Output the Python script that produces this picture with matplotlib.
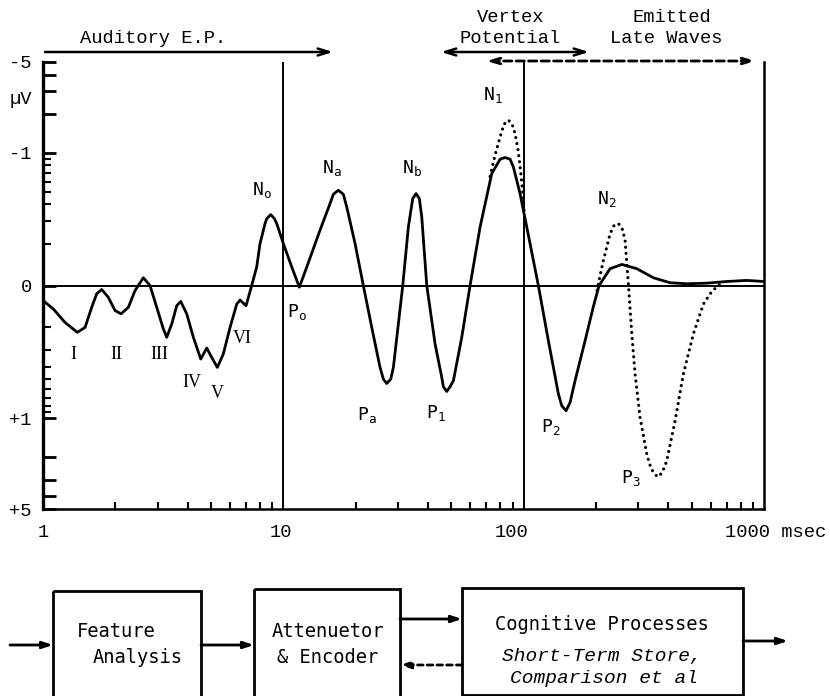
import matplotlib
matplotlib.use('Agg')
import matplotlib.pyplot as plt
from matplotlib.patches import Rectangle
from matplotlib.ticker import LogLocator, NullFormatter

plt.rcParams['font.family'] = ['Liberation Mono', 'DejaVu Sans']

# latency (msec) and amplitude (microvolt, negative = up)
solid_t = [1.0, 1.104, 1.235, 1.389, 1.496, 1.594, 1.673, 1.755, 1.869, 1.993,
           2.112, 2.265, 2.415, 2.615, 2.788, 2.973, 3.167, 3.272, 3.433, 3.601,
           3.741, 3.963, 4.223, 4.532, 4.800, 5.035, 5.313, 5.627, 6.001, 6.400,
           6.606, 6.996, 7.386, 7.748, 8.0, 8.391, 8.53, 8.864, 9.18, 9.387,
           10.0, 10.84, 11.66, 12.52, 14.21, 15.64, 16.15, 16.94, 17.77, 18.36,
           19.88, 21.52, 23.33, 25.26, 26.07, 26.93, 27.99, 28.70, 30.10, 31.40,
           33.13, 34.55, 35.67, 36.81, 37.67, 39.52, 42.80, 45.63, 46.33, 47.86,
           49.40, 51.0, 55.26, 59.84, 65.87, 73.66, 79.8, 83.70, 87.8, 90.6,
           96.6, 103.0, 115.1, 126.7, 139.5, 144.1, 150.1, 156.0, 163.6, 180.1,
           195.0, 206.0, 228.8, 256.1, 295.6, 346.6, 406.7, 477.2, 578, 700,
           848, 1000]
solid_uv = [0.124, 0.144, 0.183, 0.218, 0.200, 0.140, 0.110, 0.102, 0.117, 0.148,
            0.157, 0.140, 0.104, -0.109, 0.0, 0.140, 0.205, 0.238, 0.188, 0.136,
            0.126, 0.157, 0.238, 0.350, 0.288, 0.340, 0.406, 0.320, 0.200, 0.132,
            0.123, 0.136, 0.0, -0.132, -0.200, -0.285, -0.311, -0.334, -0.311, -0.285,
            -0.200, -0.132, 0.060, -0.132, -0.253, -0.406, -0.479, -0.514, -0.479, -0.382,
            -0.200, 0.0, 0.200, 0.406, 0.499, 0.540, 0.499, 0.406, 0.188, 0.0,
            -0.268, -0.444, -0.485, -0.444, -0.320, 0.0, 0.268, 0.485, 0.572, 0.622,
            0.572, 0.514, 0.238, 0.0, -0.268, -0.692, -0.892, -0.919, -0.892, -0.778,
            -0.485, -0.268, 0.0, 0.253, 0.651, 0.802, 0.876, 0.756, 0.514, 0.253,
            0.138, 0.0, -0.128, -0.138, -0.128, -0.109, -0.095, -0.060, -0.081, -0.102,
            -0.104, -0.102]

# dotted (attended) waveform where it departs from the solid one
n1_t = [72.5, 76.0, 79.8, 82.9, 86.4, 89.5, 92.1, 94.8, 96.6, 98.5, 100.4]
n1_uv = [-0.659, -0.958, -1.326, -1.661, -1.784, -1.661, -1.408, -1.047, -0.778, -0.562, -0.360]
p3_t = [202.0, 208.0, 214.7, 228.8, 237.8, 247.8, 256.7, 264.2, 272.7, 281.8,
        290.8, 305.0, 325.3, 339.0, 360.1, 376.6, 393.9, 426.6, 461.9, 508.3,
        559.6, 596.8, 636.4, 669.3]
p3_uv = [0.104, -0.114, -0.148, -0.238, -0.276, -0.285, -0.262, -0.212, -0.060, 0.224,
         0.456, 0.987, 1.891, 2.455, 2.830, 2.636, 2.130, 1.047, 0.456, 0.224,
         0.132, 0.110, 0.035, -0.100]

ytick_vals = [-5, -4, -3, -2, -1, 0, 1, 2, 3, 4, 5]
ytick_labels = ['-5', '', '', '', '-1', '0', '+1', '', '', '', '+5']
yminor = [-0.9, -0.8, -0.7, -0.6, -0.5, -0.4, -0.3, -0.2,
          0.2, 0.3, 0.4, 0.5, 0.6, 0.7, 0.8, 0.9]

# peak labels: (text, left x px, baseline y px)
peak_labels = [('N_o', 252, 195), ('N_a', 322, 173), ('N_b', 402, 173),
               ('N_1', 483, 100), ('N_2', 597, 204), ('P_o', 287, 317),
               ('P_a', 357, 420), ('P_1', 426, 418), ('P_2', 541, 432),
               ('P_3', 621, 483)]
roman_labels = [('I', 73, 359), ('II', 116, 359), ('III', 159, 359),
                ('IV', 192, 387), ('V', 217, 398), ('VI', 242, 343)]

W, H = 830, 696
fig = plt.figure(figsize=(W / 100, H / 100), dpi=100)
ax = fig.add_axes([43 / W, 1 - 509 / H, (764 - 43) / W, (509 - 62) / H])
ax.set_facecolor('none')
ax.set_xscale('log')
ax.set_yscale('symlog', linthresh=0.1, linscale=0.02)
ax.set_xlim(1, 1000)
ax.set_ylim(5, -5)

ax.plot(solid_t, solid_uv, color='black', lw=2.0, solid_joinstyle='round', zorder=4)
dot = dict(color='black', lw=2.3, linestyle=(0, (0.01, 1.9)), dash_capstyle='round', zorder=3)
ax.plot(n1_t, n1_uv, **dot)
ax.plot(p3_t, p3_uv, **dot)

ax.axhline(0, color='black', lw=1.4, zorder=2)
ax.axvline(10, color='black', lw=1.4)
ax.axvline(100, color='black', lw=1.4)

ax.spines['top'].set_visible(False)
ax.spines['left'].set_linewidth(2.4)
ax.spines['bottom'].set_linewidth(1.8)
ax.spines['right'].set_linewidth(1.8)

ax.set_yticks(ytick_vals)
ax.set_yticklabels(ytick_labels)
ax.set_yticks(yminor, minor=True)
ax.tick_params(axis='y', which='major', direction='in', length=9, width=2,
               pad=8, labelsize=13.5)
ax.tick_params(axis='y', which='minor', direction='in', length=5.5, width=1.5)

ax.set_xticks([1, 10, 100, 1000])
ax.set_xticklabels([])
ax.xaxis.set_minor_locator(LogLocator(base=10, subs=range(2, 10)))
ax.xaxis.set_minor_formatter(NullFormatter())
ax.tick_params(axis='x', which='major', length=0)
ax.tick_params(axis='x', which='minor', direction='in', length=5, width=1.5)

xt = ax.get_xaxis_transform()
ax.text(1.0, -0.052, '1', transform=xt, ha='center', va='center', fontsize=13.5)
ax.text(9.8, -0.052, '10', transform=xt, ha='center', va='center', fontsize=13.5)
ax.text(89, -0.052, '100', transform=xt, ha='center', va='center', fontsize=13.5)
ax.text(689, -0.052, '1000 msec', transform=xt, ha='left', va='center', fontsize=13.5)

# overlay in pixel coordinates for annotations and the block diagram
ov = fig.add_axes([0, 0, 1, 1])
ov.set_xlim(0, W)
ov.set_ylim(H, 0)
ov.axis('off')
ov.set_facecolor('none')

ov.text(32, 99, 'µV', ha='right', va='center', fontsize=13.5)

ov.text(80, 43, 'Auditory E.P.', ha='left', va='baseline', fontsize=13.5)
ov.annotate('', xy=(333, 52), xytext=(45, 52),
            arrowprops=dict(arrowstyle='->,head_length=0.8,head_width=0.25',
                            lw=1.8, color='black', shrinkA=0, shrinkB=0))
ov.text(511, 22, 'Vertex', ha='center', va='baseline', fontsize=13.5)
ov.text(510, 43, 'Potential', ha='center', va='baseline', fontsize=13.5)
ov.annotate('', xy=(589, 52), xytext=(441, 52),
            arrowprops=dict(arrowstyle='<->,head_length=0.8,head_width=0.25',
                            lw=1.8, color='black', shrinkA=0, shrinkB=0))
ov.text(672, 22, 'Emitted', ha='center', va='baseline', fontsize=13.5)
ov.text(666, 43, 'Late Waves', ha='center', va='baseline', fontsize=13.5)
ov.annotate('', xy=(756, 61), xytext=(486, 61),
            arrowprops=dict(arrowstyle='<->,head_length=0.7,head_width=0.2',
                            lw=2, color='black', linestyle=(0, (3, 1.5)),
                            shrinkA=0, shrinkB=0))

for txt, x, y in peak_labels:
    ov.text(x, y, r'$\mathregular{%s}$' % txt, ha='left', va='baseline',
            fontsize=13, family='DejaVu Sans Mono')
for txt, x, y in roman_labels:
    ov.text(x, y, txt, ha='center', va='baseline', fontsize=13,
            family='Liberation Serif')

# block diagram
for x0, x1, y0, y1 in [(53, 201, 591, 720), (254, 400, 589, 720), (462, 743, 588, 695)]:
    ov.add_patch(Rectangle((x0, y0), x1 - x0, y1 - y0, fill=False, lw=2,
                           edgecolor='black', clip_on=False))

arr = dict(arrowstyle='-|>,head_length=0.6,head_width=0.2', lw=2, color='black',
           shrinkA=0, shrinkB=0)
ov.annotate('', xy=(53, 645), xytext=(10, 645), arrowprops=arr)
ov.annotate('', xy=(254, 645), xytext=(201, 645), arrowprops=arr)
ov.annotate('', xy=(462, 619), xytext=(400, 619), arrowprops=arr)
ov.annotate('', xy=(400, 665), xytext=(462, 665),
            arrowprops=dict(arr, linestyle=(0, (2, 1.5))))
ov.annotate('', xy=(788, 641), xytext=(743, 641), arrowprops=arr)

box_font = dict(fontsize=13.5, family='DejaVu Sans Mono', va='baseline', ha='left')
ov.text(77, 637, 'Feature', **box_font)
ov.text(93, 663, 'Analysis', **box_font)
ov.text(272, 637, 'Attenuetor', **box_font)
ov.text(277, 663, '& Encoder', **box_font)
ov.text(495, 630, 'Cognitive Processes', **box_font)
ov.text(502, 661, 'Short-Term Store,', fontsize=14, style='italic',
        va='baseline', ha='left')
ov.text(510, 683, 'Comparison et al', fontsize=14, style='italic',
        va='baseline', ha='left')

fig.savefig('out.png', dpi=100)
